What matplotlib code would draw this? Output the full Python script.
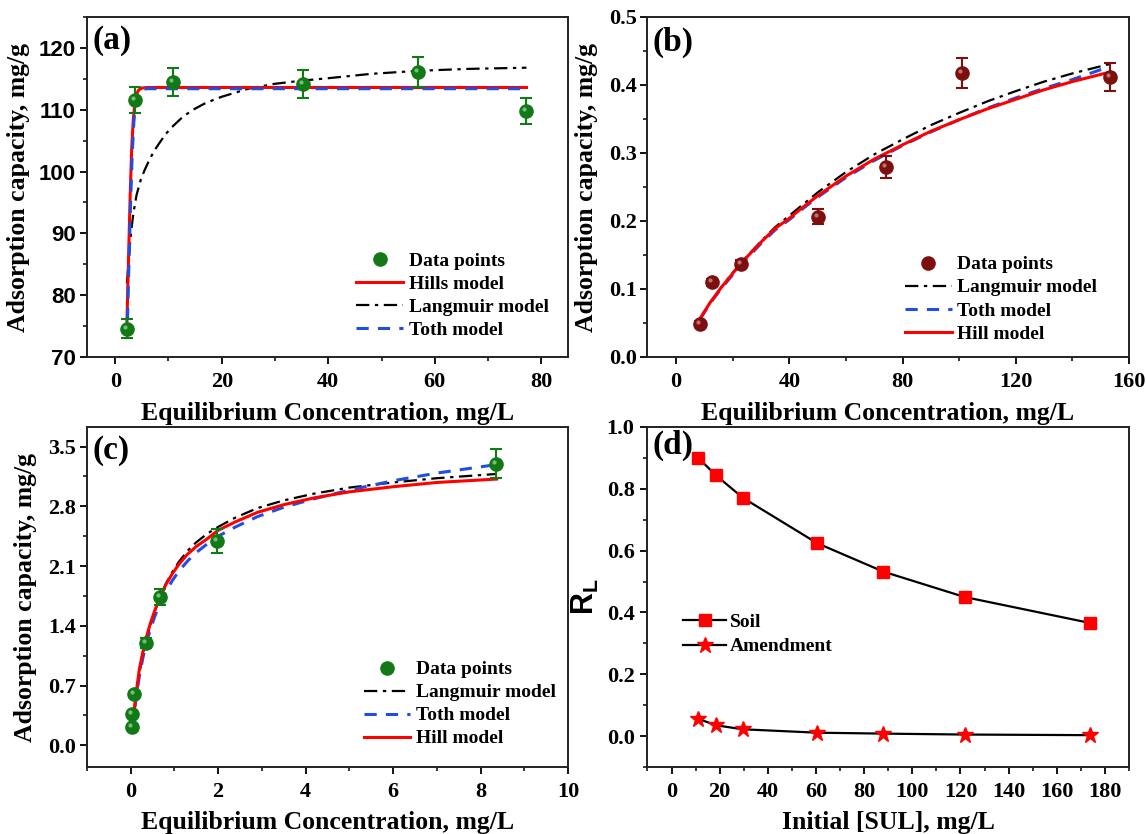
#!/usr/bin/env python3
"""Four-panel adsorption isotherm figure: data, model fits and RL separation factor."""

import matplotlib
matplotlib.use("Agg")
import matplotlib.pyplot as plt
from matplotlib.ticker import MultipleLocator, FormatStrFormatter
from matplotlib.transforms import offset_copy

plt.rcParams["font.family"] = ["Liberation Serif", "DejaVu Serif"]
plt.rcParams["font.weight"] = "bold"
plt.rcParams["mathtext.fontset"] = "custom"
plt.rcParams["mathtext.rm"] = "Liberation Sans:bold"
plt.rcParams["mathtext.bf"] = "Liberation Sans:bold"
plt.rcParams["mathtext.it"] = "Liberation Sans:bold"

# ---- panel (a) ----
a_x = [2.2, 3.7, 10.9, 35.3, 56.8, 77.1]
a_y = [74.6, 111.5, 114.5, 114.2, 116.1, 109.8]
a_err = [1.5, 2.1, 2.3, 2.3, 2.4, 2.1]
a_hill_x = [2.2, 2.5, 2.8, 3.1, 3.4, 3.7, 4.0, 4.4, 5.0, 6.0, 8.0, 20, 40, 60, 77.2]
a_hill_y = [75.8, 86.0, 96.0, 104.0, 108.5, 111.2, 112.5, 113.2, 113.5, 113.6, 113.6,
            113.6, 113.6, 113.6, 113.6]
a_lang_x = [2.2, 2.6, 3.0, 3.4, 4.0, 4.8, 5.5, 6.2, 7.2, 8.2, 9.5, 10.9, 12.5, 14.4,
            17, 20, 25, 30, 35, 40, 48, 57, 66, 77.2]
a_lang_y = [81.9, 86.6, 90.4, 93.2, 96.2, 98.7, 100.2, 101.5, 103.2, 104.5, 106.1, 107.4,
            108.7, 109.9, 111.1, 112.1, 113.4, 114.2, 114.7, 115.1, 115.8, 116.3, 116.6, 116.8]
a_toth_x = [2.3, 2.6, 2.9, 3.2, 3.5, 3.8, 4.1, 4.5, 5.1, 6.0, 8.0, 77.2]
a_toth_y = [76.0, 86.0, 95.5, 103.0, 108.0, 110.9, 112.3, 113.0, 113.3, 113.4, 113.4, 113.4]

# ---- panel (b) ----
b_x = [8.5, 12.7, 22.8, 50.2, 74.1, 101.0, 153.3]
b_y = [0.049, 0.110, 0.137, 0.206, 0.279, 0.418, 0.412]
b_err = [0.004, 0.005, 0.006, 0.011, 0.016, 0.022, 0.021]
b_fit_x = [8.5, 12, 16, 20, 25, 30, 35, 40, 45, 50, 60, 70, 80, 90, 100, 110, 120, 130,
           140, 153.3]
b_hill_y = [0.057, 0.080, 0.1025, 0.123, 0.147, 0.169, 0.189, 0.204, 0.221, 0.237, 0.266,
            0.291, 0.312, 0.332, 0.349, 0.365, 0.379, 0.393, 0.405, 0.419]
b_lang_y = [0.056, 0.080, 0.103, 0.124, 0.148, 0.170, 0.191, 0.208, 0.225, 0.242, 0.272,
            0.298, 0.320, 0.341, 0.359, 0.376, 0.391, 0.405, 0.417, 0.431]
b_toth_x = [8.5, 12, 16, 20, 25, 30, 35, 40, 45, 50, 60, 70, 80, 90, 100, 110, 120, 130,
            140, 151]
b_toth_y = [0.056, 0.079, 0.101, 0.121, 0.145, 0.167, 0.187, 0.202, 0.219, 0.235, 0.264,
            0.289, 0.311, 0.331, 0.349, 0.366, 0.381, 0.395, 0.408, 0.424]

# ---- panel (c) ----
c_x = [0.04, 0.04, 0.08, 0.36, 0.66, 1.97, 8.35]
c_y = [0.215, 0.372, 0.598, 1.20, 1.74, 2.39, 3.30]
c_err = [0.02, 0.02, 0.03, 0.06, 0.09, 0.14, 0.17]
c_fit_x = [0.04, 0.08, 0.13, 0.2, 0.28, 0.36, 0.45, 0.55, 0.66, 0.8, 0.95, 1.1, 1.3, 1.5,
           1.75, 2.0, 2.4, 2.9, 3.5, 4.2, 5.0, 6.0, 7.0, 8.37]
c_hill_y = [0.24, 0.42, 0.64, 0.90, 1.10, 1.27, 1.43, 1.58, 1.72, 1.88, 2.01, 2.12, 2.24,
            2.33, 2.42, 2.52, 2.62, 2.73, 2.82, 2.90, 2.97, 3.03, 3.08, 3.12]
c_lang_y = [0.24, 0.40, 0.60, 0.85, 1.06, 1.24, 1.41, 1.57, 1.72, 1.89, 2.03, 2.15, 2.28,
            2.38, 2.48, 2.56, 2.67, 2.78, 2.87, 2.95, 3.02, 3.08, 3.13, 3.18]
c_toth_y = [0.20, 0.38, 0.58, 0.82, 1.03, 1.20, 1.36, 1.51, 1.65, 1.80, 1.93, 2.04, 2.16,
            2.26, 2.36, 2.45, 2.56, 2.68, 2.79, 2.89, 2.99, 3.10, 3.19, 3.29]

# ---- panel (d) ----
d_x = [11.1, 18.4, 29.6, 60.5, 88.0, 121.7, 173.8]
d_soil = [0.900, 0.844, 0.771, 0.624, 0.532, 0.450, 0.366]
d_amend = [0.056, 0.035, 0.022, 0.011, 0.008, 0.005, 0.003]

GREEN = "#117a17"
MAROON = "#7d0f0f"
RED = "#ff0000"
BLUE = "#1f4fe0"
DASHDOT = (0, (6, 2.5, 1.5, 2.5))
DASHED = (0, (4, 3))

W, H = 1146, 834
fig = plt.figure(figsize=(W / 100, H / 100), dpi=100)


def axes_px(left, top, right, bottom):
    return fig.add_axes([left / W, 1 - bottom / H, (right - left) / W, (bottom - top) / H])


def style(ax, xmaj, xmin, ymaj, ymin, ypad=3):
    for sp in ax.spines.values():
        sp.set_linewidth(1.4)
        sp.set_color("#222222")
    ax.xaxis.set_major_locator(MultipleLocator(xmaj))
    ax.xaxis.set_minor_locator(MultipleLocator(xmin))
    ax.yaxis.set_major_locator(MultipleLocator(ymaj))
    ax.yaxis.set_minor_locator(MultipleLocator(ymin))
    ax.tick_params(which="major", direction="out", length=5, width=1.3, labelsize=16)
    ax.tick_params(which="minor", direction="out", length=3, width=1.1)
    ax.tick_params(axis="x", which="major", pad=6)
    ax.tick_params(axis="y", which="major", pad=ypad)
    for lab in ax.get_xticklabels() + ax.get_yticklabels():
        lab.set_fontweight("bold")


def data_points(ax, x, y, err, color, shine):
    ax.errorbar(x, y, yerr=err, fmt="none", ecolor=color, elinewidth=1.5, capsize=4,
                capthick=1.5, zorder=4)
    ax.plot(x, y, "o", color=color, ms=9.5, mec=color, zorder=5, label="Data points")
    # small highlight so the markers read like shaded balls
    tr = offset_copy(ax.transData, fig=fig, x=-2, y=2, units="dots")
    ax.plot(x, y, "o", color=shine, ms=3, mec="none", alpha=0.8, zorder=6,
            transform=tr, linestyle="none")


def panel_label(ax, text, y):
    ax.text(0.012, y, text, transform=ax.transAxes, fontsize=24, fontweight="bold",
            ha="left", va="center")


def legend(ax, x, y):
    ax.legend(loc="center left", bbox_to_anchor=(x, y), frameon=False,
              handlelength=2.4, handletextpad=0.3, labelspacing=0.28, borderpad=0,
              borderaxespad=0, prop={"weight": "bold", "size": 14})


XLABEL = "Equilibrium Concentration, mg/L"
YLABEL = "Adsorption capacity, mg/g"

# (a)
ax = axes_px(87, 17, 568, 357)
data_points(ax, a_x, a_y, a_err, GREEN, "#8fd08f")
ax.plot(a_hill_x, a_hill_y, color=RED, lw=2.2, label="Hills model", zorder=3)
ax.plot(a_lang_x, a_lang_y, color="black", lw=1.6, ls=DASHDOT, label="Langmuir model", zorder=2)
ax.plot(a_toth_x, a_toth_y, color=BLUE, lw=2.2, ls=DASHED, label="Toth model", zorder=3)
ax.set_xlim(-5.3, 85)
ax.set_ylim(70, 125)
style(ax, 20, 10, 10, 5)
for lab in ax.get_yticklabels():
    lab.set_fontfamily("Liberation Sans")
ax.set_xlabel(XLABEL, fontsize=18.5, fontweight="bold", labelpad=7)
ax.set_ylabel(YLABEL, fontsize=18.5, fontweight="bold", labelpad=6)
panel_label(ax, "(a)", 0.93)
legend(ax, 0.56, 0.18)

# (b)
ax = axes_px(647, 17, 1129, 357)
data_points(ax, b_x, b_y, b_err, MAROON, "#d08a8a")
ax.plot(b_fit_x, b_lang_y, color="black", lw=1.6, ls=DASHDOT, label="Langmuir model", zorder=2)
ax.plot(b_toth_x, b_toth_y, color=BLUE, lw=2.2, ls=DASHED, label="Toth model", zorder=3)
ax.plot(b_fit_x, b_hill_y, color=RED, lw=2.2, label="Hill model", zorder=3)
ax.set_xlim(-10.3, 160)
ax.set_ylim(0, 0.5)
style(ax, 40, 20, 0.1, 0.05, ypad=2)
ax.yaxis.set_major_formatter(FormatStrFormatter("%.1f"))
ax.set_xlabel(XLABEL, fontsize=18.5, fontweight="bold", labelpad=7)
ax.set_ylabel(YLABEL, fontsize=18.5, fontweight="bold", labelpad=8)
panel_label(ax, "(b)", 0.925)
legend(ax, 0.535, 0.17)

# (c)
ax = axes_px(87, 427, 568, 767)
data_points(ax, c_x, c_y, c_err, GREEN, "#8fd08f")
ax.plot(c_fit_x, c_lang_y, color="black", lw=1.6, ls=DASHDOT, label="Langmuir model", zorder=2)
ax.plot(c_fit_x, c_toth_y, color=BLUE, lw=2.2, ls=DASHED, label="Toth model", zorder=3)
ax.plot(c_fit_x, c_hill_y, color=RED, lw=2.2, label="Hill model", zorder=3)
ax.set_xlim(-1.0, 10)
ax.set_ylim(-0.254, 3.73)
style(ax, 2, 1, 0.7, 0.35)
ax.yaxis.set_major_formatter(FormatStrFormatter("%.1f"))
ax.set_xlabel(XLABEL, fontsize=18.5, fontweight="bold", labelpad=6)
ax.set_ylabel(YLABEL, fontsize=18.5, fontweight="bold", labelpad=8)
panel_label(ax, "(c)", 0.93)
legend(ax, 0.575, 0.185)

# (d)
ax = axes_px(647, 427, 1129, 767)
ax.plot(d_x, d_soil, color="black", lw=1.6, marker="s", ms=9, mfc=RED, mec=RED,
        label="Soil")
ax.plot(d_x, d_amend, color="black", lw=1.6, marker="*", ms=12, mfc=RED, mec=RED,
        label="Amendment")
ax.set_xlim(-10.2, 190)
ax.set_ylim(-0.1, 1.0)
style(ax, 20, 10, 0.2, 0.1, ypad=4)
ax.yaxis.set_major_formatter(FormatStrFormatter("%.1f"))
ax.set_xlabel("Initial [SUL], mg/L", fontsize=18.5, fontweight="bold", labelpad=6)
ax.set_ylabel(r"$\mathbf{R_L}$", fontsize=22, labelpad=4)
panel_label(ax, "(d)", 0.945)
ax.legend(loc="center left", bbox_to_anchor=(0.075, 0.39), frameon=False,
          handlelength=2.2, handletextpad=0.2, labelspacing=0.35, borderpad=0,
          borderaxespad=0, prop={"weight": "bold", "size": 14})

fig.savefig("out.png", dpi=100, facecolor="white")
